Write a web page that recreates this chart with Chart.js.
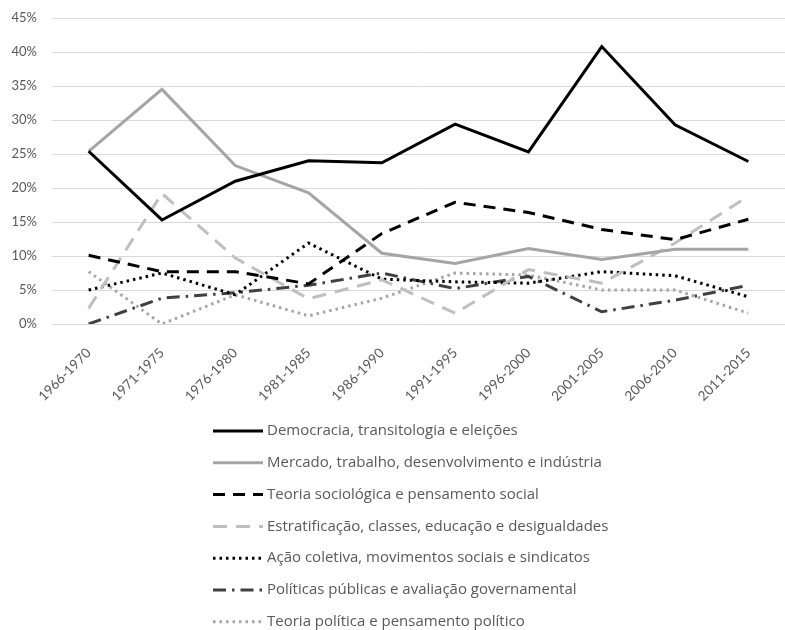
<!DOCTYPE html>
<html>
<head>
<meta charset="utf-8">
<script src="https://cdn.jsdelivr.net/npm/chart.js@4/dist/chart.umd.min.js"></script>
<style>
  body { margin: 0; background: #fff; }
</style>
</head>
<body>
<canvas id="chart" width="785" height="630"></canvas>
<script>
const periods = ["1966-1970", "1971-1975", "1976-1980", "1981-1985", "1986-1990",
                 "1991-1995", "1996-2000", "2001-2005", "2006-2010", "2011-2015"];

const democracia   = [25.4, 15.3, 21.0, 24.0, 23.7, 29.4, 25.3, 40.8, 29.3, 23.9];
const mercado      = [25.4, 34.5, 23.3, 19.3, 10.4, 8.9, 11.1, 9.5, 11.0, 11.0];
const teoriaSocio  = [10.1, 7.7, 7.7, 5.9, 13.3, 17.9, 16.4, 13.9, 12.4, 15.4];
const estratif     = [2.3, 19.2, 9.7, 3.7, 6.5, 1.6, 8.0, 6.0, 11.9, 18.8];
const acaoColetiva = [5.0, 7.5, 4.3, 11.9, 6.6, 6.2, 6.0, 7.7, 7.1, 4.0];
const politicas    = [0.0, 3.8, 4.6, 5.7, 7.5, 5.2, 7.0, 1.8, 3.5, 5.7];
const teoriaPol    = [7.7, 0.0, 4.3, 1.2, 3.8, 7.5, 7.2, 5.0, 5.0, 1.6];

const seriesNames = [
    "Democracia, transitologia e eleições",
    "Mercado, trabalho, desenvolvimento e indústria",
    "Teoria sociológica e pensamento social",
    "Estratificação, classes, educação e desigualdades",
    "Ação coletiva, movimentos sociais e sindicatos",
    "Políticas públicas e avaliação governamental",
    "Teoria política e pensamento político"
];

const yTicks = [0, 5, 10, 15, 20, 25, 30, 35, 40, 45];

function makeSet(label, data, color, dash) {
    return {
        label: label,
        data: data,
        borderColor: color,
        backgroundColor: color,
        borderWidth: 3,
        borderDash: dash,
        pointRadius: 0,
        tension: 0,
        fill: false
    };
}

// legend drawn one item per row under the axis, like the original
const stackedLegend = {
    id: "stackedLegend",
    afterDraw(chart) {
        const ctx = chart.ctx;
        chart.data.datasets.forEach((ds, i) => {
            const y = 431 + i * 31.8;
            ctx.save();
            ctx.strokeStyle = ds.borderColor;
            ctx.lineWidth = ds.borderWidth;
            ctx.setLineDash(ds.borderDash || []);
            ctx.beginPath();
            ctx.moveTo(213, y);
            ctx.lineTo(263, y);
            ctx.stroke();
            ctx.setLineDash([]);
            ctx.fillStyle = "#595959";
            ctx.font = "15px 'Open Sans'";
            ctx.textBaseline = "middle";
            ctx.fillText(ds.label, 267, y);
            ctx.restore();
        });
    }
};

new Chart(document.getElementById("chart"), {
    type: "line",
    data: {
        labels: periods,
        datasets: [
            makeSet(seriesNames[0], democracia, "#000000", []),
            makeSet(seriesNames[1], mercado, "#a5a5a5", []),
            makeSet(seriesNames[2], teoriaSocio, "#000000", [12, 8]),
            makeSet(seriesNames[3], estratif, "#bfbfbf", [14, 9]),
            makeSet(seriesNames[4], acaoColetiva, "#000000", [2.5, 4]),
            makeSet(seriesNames[5], politicas, "#404040", [13, 6, 2.5, 6]),
            makeSet(seriesNames[6], teoriaPol, "#a5a5a5", [2.5, 4])
        ]
    },
    options: {
        responsive: false,
        animation: false,
        layout: { padding: { top: 18, right: 0, left: 0, bottom: 0 } },
        plugins: {
            legend: { display: false },
            tooltip: { enabled: false }
        },
        scales: {
            x: {
                offset: true,
                grid: { display: false, offset: true },
                border: { display: false },
                ticks: {
                    color: "#595959",
                    font: { family: "Lato", size: 13.5 },
                    minRotation: 45,
                    maxRotation: 45,
                    padding: 13
                },
                afterFit(scale) { scale.height = 306; scale.paddingTop = 0; }
            },
            y: {
                min: 0,
                max: 45,
                afterBuildTicks(scale) {
                    scale.ticks = yTicks.map(v => ({ value: v }));
                },
                grid: { color: "#d9d9d9", lineWidth: 1, drawTicks: false },
                border: { display: false },
                ticks: {
                    color: "#595959",
                    font: { family: "Lato", size: 13 },
                    padding: 15,
                    callback: v => v + "%"
                },
                // fixed axis width and no extra label padding so the plot sits where the original does
                afterFit(scale) { scale.width = 52; scale.paddingTop = 0; scale.paddingBottom = 0; }
            }
        }
    },
    plugins: [stackedLegend]
});
</script>
</body>
</html>
